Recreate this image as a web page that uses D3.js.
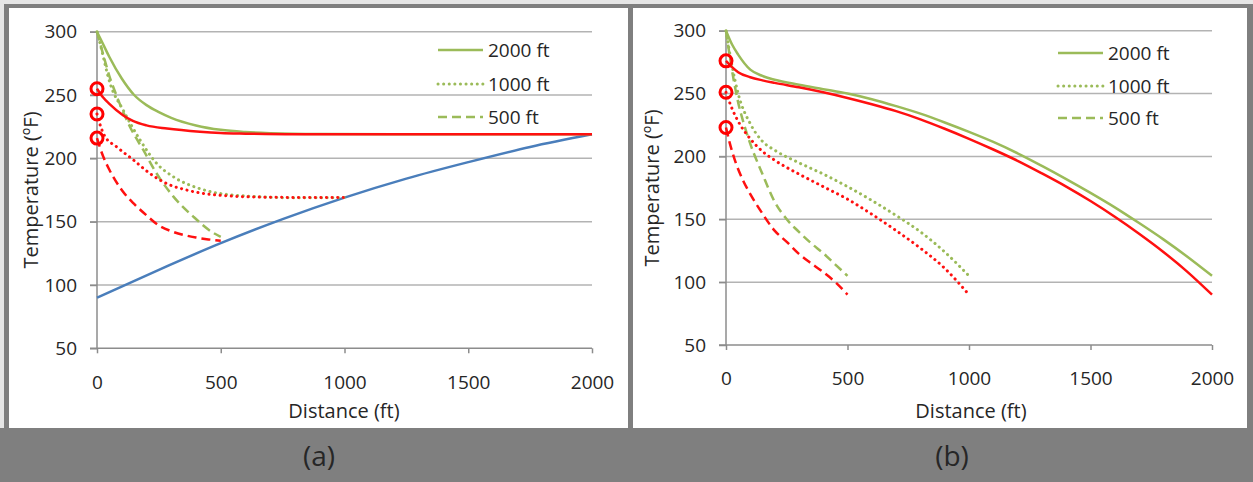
<!DOCTYPE html>
<html>
<head>
<meta charset="utf-8">
<script src="https://cdn.jsdelivr.net/npm/d3@7/dist/d3.min.js"></script>
<style>
  html, body { margin: 0; padding: 0; background: #ffffff; }
  svg { display: block; }
  text { font-family: "Open Sans", "Liberation Sans", sans-serif; fill: #262626; }
</style>
</head>
<body>
<svg id="chart" width="1253" height="482"></svg>
<script>
// ---------- data ----------
const xTicks = [0, 500, 1000, 1500, 2000];
const yTicks = [50, 100, 150, 200, 250, 300];
const legendLabels = ["2000 ft", "1000 ft", "500 ft"];
const panelLabels = ["(a)", "(b)"];
const xTitle = "Distance (ft)";
const yTitle = "Temperature (ºF)";

// panel (a): [distance ft, temperature F]
const aBlue = [[0,90],[250,112],[500,133],[750,152],[1000,169],[1250,184],[1500,197],[1750,209],[2000,219]];
const aGreen2000 = [[0,300],[25,290],[50,280],[100,263],[150,250],[200,242],[250,236.5],[300,232],[400,226],[500,222.5],[600,220.8],[700,219.9],[900,219.2],[1200,219],[2000,219]];
const aRed2000 = [[0,255],[25,248],[50,243],[105,234],[145,229.5],[200,226],[283,223.5],[416,221],[500,220],[600,219.5],[800,219],[2000,219]];
const aGreen1000 = [[0,300],[12,291],[53,259],[106,238],[174,214.5],[241,196],[308,185.5],[416,176],[551,171],[820,168.8],[1000,169]];
const aRed1000 = [[0,235],[15,225],[30,218],[80,209],[147,198.7],[214,188],[282,180],[362,175],[484,171],[686,169.3],[1000,169]];
const aGreen500 = [[0,300],[25,282],[50,265],[80,249],[133,225],[187,206.6],[241,188],[308,170],[389,154],[471,141],[500,138]];
const aRed500 = [[0,216],[20,204],[50,191],[100,175],[150,164],[200,155],[250,147],[300,142.5],[350,139.5],[400,137.5],[450,136],[500,135]];
const aInlet = [255, 235, 216];

// panel (b)
const bGreen2000 = [[0,300],[25,289],[50,281],[100,269],[150,264],[200,261],[300,257],[400,253.5],[500,250],[600,245.5],[700,240],[800,234],[900,227],[1000,219.5],[1100,211.5],[1200,202.5],[1300,192.5],[1400,182],[1500,171],[1600,159.5],[1700,147],[1800,134],[1900,120],[2000,105]];
const bRed2000 = [[0,276],[25,271],[50,267],[100,263],[150,260.5],[200,258.5],[300,255],[400,251],[500,246.5],[600,241.5],[700,236],[800,229.5],[900,222],[1000,214],[1100,205.5],[1200,196.5],[1300,186.5],[1400,176],[1500,164.5],[1600,152],[1700,138.5],[1800,124],[1900,108],[2000,90]];
const bGreen1000 = [[0,300],[25,272],[50,250],[100,226],[150,212],[200,205],[300,195],[400,186],[500,176],[600,165],[700,153],[800,140],[900,124],[1000,105]];
const bRed1000 = [[0,251],[25,238],[50,228],[100,214],[150,204],[200,197],[300,186],[400,176],[500,166],[600,154],[700,141],[800,127],[900,111],[1000,90]];
const bGreen500 = [[0,300],[25,268],[50,243],[75,225],[100,210],[150,186],[200,164],[250,150],[300,140],[350,131],[400,123],[450,114],[500,105]];
const bRed500 = [[0,223],[15,211],[40,195],[70,181],[100,170],[140,157.5],[200,141],[250,132],[300,122.5],[350,115],[400,108],[450,100],[500,90]];
const bInlet = [276, 251, 223];

// ---------- styles ----------
const GREEN = "#9bbb59", RED = "#ff1010", BLUE = "#4a7ebb";
const GRID = "#b3b3b3", AXIS = "#8c8c8c";
const styles = {
  solid: { width: 2.5, dash: null, cap: "butt" },
  dotted: { width: 3, dash: "0.1,5.5", cap: "round" },
  dashed: { width: 2.5, dash: "9,5", cap: "butt" }
};

const svg = d3.select("#chart");

// background frame
svg.append("rect").attr("x", 0).attr("y", 0).attr("width", 1253).attr("height", 482).attr("fill", "#7f7f7f");
svg.append("rect").attr("x", 0).attr("y", 0).attr("width", 1253).attr("height", 4).attr("fill", "#e6e6e6");
svg.append("rect").attr("x", 0).attr("y", 0).attr("width", 4).attr("height", 428).attr("fill", "#e6e6e6");
svg.append("rect").attr("x", 9).attr("y", 8).attr("width", 619).attr("height", 420).attr("fill", "#ffffff");
svg.append("rect").attr("x", 633).attr("y", 8).attr("width", 614).attr("height", 420).attr("fill", "#ffffff");

function panel(cfg) {
  const g = svg.append("g");
  const x = d3.scaleLinear().domain([0, 2000]).range([cfg.x0, cfg.x1]);
  const y = d3.scaleLinear().domain([50, 300]).range([cfg.y0, cfg.y1]);

  // gridlines
  g.selectAll(".grid").data(yTicks.filter(v => v > 50)).enter().append("line")
    .attr("x1", cfg.x0 - 7).attr("x2", cfg.x1)
    .attr("y1", d => y(d)).attr("y2", d => y(d))
    .attr("stroke", GRID).attr("stroke-width", 1.5);

  // y axis
  const yAxis = d3.axisLeft(y).tickValues(yTicks).tickSize(7).tickPadding(13).tickFormat(d3.format("d"));
  const ya = g.append("g").attr("transform", `translate(${cfg.x0},0)`).call(yAxis);
  ya.select(".domain").attr("stroke", AXIS).attr("stroke-width", 1.5).attr("d", `M0,${cfg.y0}V${cfg.y1}`);
  ya.selectAll(".tick line").attr("stroke", AXIS).attr("stroke-width", 1.5);
  ya.selectAll(".tick text").attr("font-size", 19).attr("fill", "#262626")
    .attr("font-family", '"Open Sans", sans-serif');

  // x axis
  const xAxis = d3.axisBottom(x).tickValues(xTicks).tickSize(5).tickPadding(22).tickFormat(d3.format("d"));
  const xa = g.append("g").attr("transform", `translate(0,${cfg.y0})`).call(xAxis);
  xa.select(".domain").attr("stroke", AXIS).attr("stroke-width", 1.5).attr("d", `M${cfg.x0 - 7},0H${cfg.x1}`);
  xa.selectAll(".tick line").attr("stroke", AXIS).attr("stroke-width", 1.5);
  xa.selectAll(".tick text").attr("font-size", 19).attr("fill", "#262626")
    .attr("font-family", '"Open Sans", sans-serif');

  // axis titles
  g.append("text").attr("x", cfg.xTitleX).attr("y", cfg.xTitleY).attr("text-anchor", "middle")
    .attr("font-size", 20).text(xTitle);
  g.append("text").attr("transform", `translate(${cfg.yTitleX},${cfg.yTitleY}) rotate(-90)`)
    .attr("text-anchor", "middle").attr("font-size", 20).text(yTitle);

  const line = d3.line().x(d => x(d[0])).y(d => y(d[1])).curve(d3.curveMonotoneX);

  cfg.series.forEach(s => {
    const st = styles[s.style];
    g.append("path").datum(s.data).attr("d", line)
      .attr("fill", "none").attr("stroke", s.color)
      .attr("stroke-width", st.width)
      .attr("stroke-dasharray", st.dash)
      .attr("stroke-linecap", st.cap);
  });

  // inlet circles
  g.selectAll(".inlet").data(cfg.inlet).enter().append("circle")
    .attr("cx", x(0)).attr("cy", d => y(d)).attr("r", 6)
    .attr("fill", "none").attr("stroke", "#ff0000").attr("stroke-width", 3);

  // legend
  const styleOrder = ["solid", "dotted", "dashed"];
  legendLabels.forEach((lab, i) => {
    const ly = cfg.legY[i];
    const st = styles[styleOrder[i]];
    g.append("line").attr("x1", cfg.legX).attr("x2", cfg.legX + 45).attr("y1", ly).attr("y2", ly)
      .attr("stroke", GREEN).attr("stroke-width", st.width)
      .attr("stroke-dasharray", st.dash).attr("stroke-linecap", st.cap);
    g.append("text").attr("x", cfg.legX + 50).attr("y", ly + 7).attr("font-size", 19).text(lab);
  });

  // panel label
  svg.append("text").attr("x", cfg.labX).attr("y", 466).attr("text-anchor", "middle")
    .attr("font-size", 28).attr("font-family", '"Liberation Sans", Arial, sans-serif')
    .attr("fill", "#000").text(cfg.label);
}

panel({
  x0: 97, x1: 592, y0: 348.3, y1: 31.7,
  xTitleX: 344, xTitleY: 418, yTitleX: 38, yTitleY: 190,
  legX: 438, legY: [50, 84, 117], labX: 319, label: panelLabels[0],
  inlet: aInlet,
  series: [
    { data: aBlue, color: BLUE, style: "solid" },
    { data: aGreen2000, color: GREEN, style: "solid" },
    { data: aGreen1000, color: GREEN, style: "dotted" },
    { data: aGreen500, color: GREEN, style: "dashed" },
    { data: aRed2000, color: RED, style: "solid" },
    { data: aRed1000, color: RED, style: "dotted" },
    { data: aRed500, color: RED, style: "dashed" }
  ]
});

panel({
  x0: 726, x1: 1212, y0: 345, y1: 30.7,
  xTitleX: 971, xTitleY: 418, yTitleX: 659, yTitleY: 188,
  legX: 1058, legY: [53, 86, 118], labX: 952, label: panelLabels[1],
  inlet: bInlet,
  series: [
    { data: bGreen2000, color: GREEN, style: "solid" },
    { data: bGreen1000, color: GREEN, style: "dotted" },
    { data: bGreen500, color: GREEN, style: "dashed" },
    { data: bRed2000, color: RED, style: "solid" },
    { data: bRed1000, color: RED, style: "dotted" },
    { data: bRed500, color: RED, style: "dashed" }
  ]
});
</script>
</body>
</html>
